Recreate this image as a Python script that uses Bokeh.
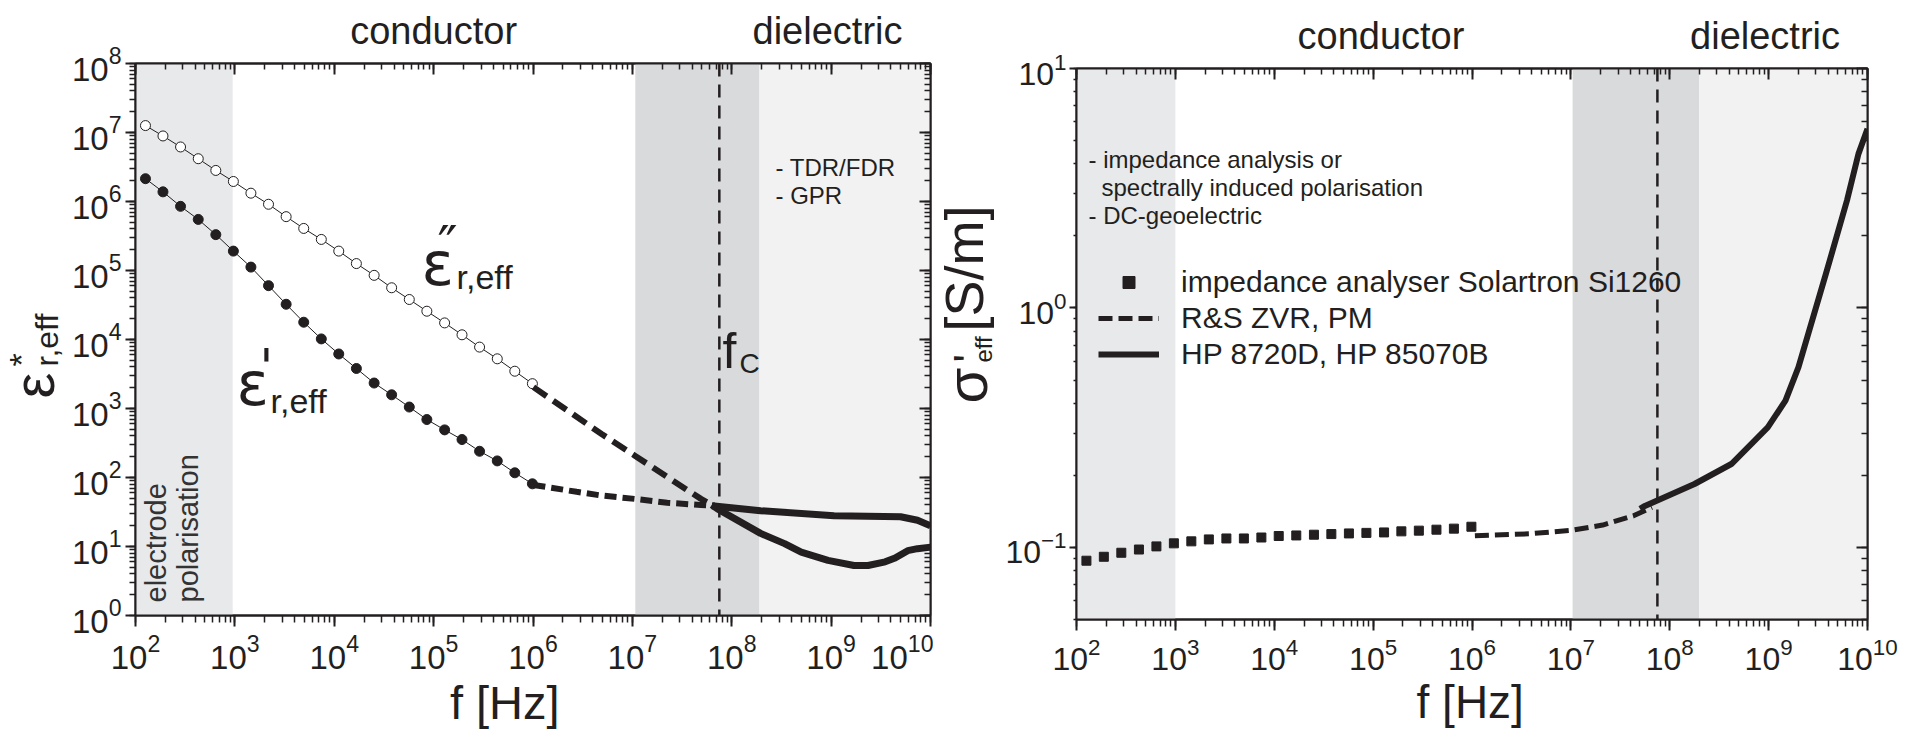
import math
from bokeh.plotting import figure
from bokeh.layouts import row
from bokeh.models import (LogAxis, LogTicker, FixedTicker, Range1d, BoxAnnotation, Span,
                          Label, Legend, LegendItem, CustomJSTickFormatter)
from bokeh.embed import file_html
from bokeh.resources import INLINE

FONT = "Liberation Sans"
GREEK = "DejaVu Sans"
INK = "#231f20"

# ---------------- data ----------------
# impedance analyser (Solartron Si1260) frequencies, Hz
f_ia = [126, 189, 284, 428, 643, 966, 1450, 2180, 3280, 4930, 7410,
        1.11e4, 1.67e4, 2.52e4, 3.78e4, 5.69e4, 8.55e4, 1.29e5, 1.93e5,
        2.90e5, 4.37e5, 6.56e5, 9.86e5]
eps_real_ia = [2.14e6, 1.38e6, 8.51e5, 5.50e5, 3.31e5, 1.91e5, 1.12e5, 6.03e4,
               3.24e4, 1.78e4, 1.02e4, 6.17e3, 3.80e3, 2.34e3, 1.58e3, 1.05e3,
               692, 490, 355, 240, 174, 117, 81]
eps_imag_ia = [1.26e7, 8.91e6, 6.17e6, 4.17e6, 2.82e6, 1.95e6, 1.32e6, 9.12e5,
               6.03e5, 4.07e5, 2.82e5, 1.91e5, 1.26e5, 8.51e4, 5.62e4, 3.80e4,
               2.57e4, 1.74e4, 1.17e4, 7.76e3, 5.25e3, 3.47e3, 2.29e3]
sigma_ia = [0.088, 0.0914, 0.095, 0.098, 0.101, 0.104, 0.106, 0.108, 0.109,
            0.109, 0.110, 0.1116, 0.1122, 0.113, 0.1137, 0.1144, 0.115, 0.1155,
            0.1167, 0.1175, 0.1186, 0.1198, 0.122]

# R&S ZVR, PM (dashed)
f_zvr_real = [1.01e6, 2.75e6, 4.8e6, 1.05e7, 2.24e7, 4.9e7, 6.3e7]
eps_real_zvr = [78, 62, 55, 49, 43, 40, 39]
f_zvr_imag = [1.01e6, 4.9e6, 1.05e7, 2.24e7, 4.9e7, 6.3e7]
eps_imag_zvr = [2.04e3, 427, 209, 102, 49, 40]
f_zvr_sigma = [1.07e6, 3.8e6, 1.02e7, 2.1e7, 4.3e7, 6.6e7]
sigma_zvr = [0.112, 0.114, 0.118, 0.124, 0.1355, 0.147]

# HP 8720D, HP 85070B (solid)
f_hp_real = [6.3e7, 1.95e8, 1.07e9, 5.0e9, 7.4e9, 1e10]
eps_real_hp = [39, 33, 28, 27, 24, 20]
f_hp_imag = [6.3e7, 7.2e7, 1.95e8, 3.4e8, 5.0e8, 9.3e8, 1.7e9, 2.35e9,
             3.5e9, 4.4e9, 5.9e9, 7.4e9, 1e10]
eps_imag_hp = [40, 35, 15.5, 11, 8.3, 6.3, 5.3, 5.3, 6.0, 6.8, 8.7, 9.3, 9.8]
f_hp_sigma = [5.0e7, 5.6e7, 1.78e8, 4.2e8, 9.8e8, 1.48e9, 2.0e9, 3.8e9,
              6.2e9, 8.1e9, 1e10]
sigma_hp = [0.145, 0.149, 0.184, 0.223, 0.317, 0.41, 0.565, 1.39, 2.81, 4.4, 5.6]

# frequency bands and critical frequency
band_ep = [1e2, 950]
band_mid = [1.07e7, 1.9e8]
band_hi = [1.9e8, 1e10]
f_c = 7.5e7

# region names above the panels, x-axis titles, legend
region_names = ["conductor", "dielectric"]
x_title = ["f [Hz]"]
legend_labels = ["impedance analyser Solartron Si1260", "R&S ZVR, PM",
                 "HP 8720D, HP 85070B"]

# ---------------- styling helpers ----------------
HALF_PI = math.pi / 2
ROT_SHIFT = 0.45    # em offset so a rotated label's baseline lands at the given x
FLAT_SHIFT = 0.33   # em offset so a flat label's baseline lands at the given y


def style_axes(p, tick_fs="33px", ytick_out=11, ystandoff=5):
    for ax in p.xaxis + p.yaxis:
        ax.axis_line_color = INK
        ax.axis_line_width = 2
        ax.major_tick_line_color = INK
        ax.minor_tick_line_color = INK
        ax.major_tick_line_width = 2
        ax.minor_tick_line_width = 1.5
        ax.major_tick_out = 11
        ax.major_tick_in = 0
        ax.minor_tick_out = 7
        ax.minor_tick_in = 0
        ax.major_label_text_font = FONT
        ax.major_label_text_font_size = tick_fs
        ax.major_label_text_color = INK
        ax.ticker.num_minor_ticks = 10
    p.xaxis.major_label_standoff = 7
    p.yaxis.major_label_standoff = ystandoff
    p.yaxis.major_tick_out = ytick_out
    p.yaxis.minor_tick_out = max(ytick_out - 4, 3)
    for side in ("above", "right"):
        ax = LogAxis(ticker=LogTicker(num_minor_ticks=10),
                     formatter=CustomJSTickFormatter(code="return ''"))
        ax.axis_line_color = INK
        ax.axis_line_width = 2
        ax.major_tick_line_color = INK
        ax.minor_tick_line_color = INK
        ax.major_tick_line_width = 2
        ax.minor_tick_line_width = 1.5
        ax.major_tick_out = 0
        ax.major_tick_in = 11
        ax.minor_tick_out = 0
        ax.minor_tick_in = 6
        ax.major_label_standoff = 0
        ax.major_label_text_font_size = "0px"
        p.add_layout(ax, side)


def text_axis(p, side, where, texts, size, standoff):
    """An axis without line or ticks whose tick labels carry free text."""
    ax = LogAxis(ticker=FixedTicker(ticks=where, minor_ticks=[]),
                 formatter=CustomJSTickFormatter(args=dict(names=texts),
                                                 code="return names[index]"))
    ax.axis_line_color = None
    ax.major_tick_line_color = None
    ax.minor_tick_line_color = None
    ax.major_tick_out = 0
    ax.major_tick_in = 0
    ax.minor_tick_out = 0
    ax.minor_tick_in = 0
    ax.major_label_standoff = standoff
    ax.major_label_text_font = FONT
    ax.major_label_text_font_size = f"{size}px"
    ax.major_label_text_color = INK
    p.add_layout(ax, side)


def lab(p, text, x, y, size, angle=0.0, align="left", color=INK, font=FONT):
    if angle:
        x = x - ROT_SHIFT * size
    else:
        y = y + FLAT_SHIFT * size
    p.add_layout(Label(x=x, y=y, x_units="screen", y_units="screen", text=text,
                       text_font=font, text_font_size=f"{size}px", text_color=color,
                       angle=angle, text_align=align, text_baseline="alphabetic"))


def blank(w, h):
    p = figure(width=w, height=h, x_axis_type=None, y_axis_type=None, title=None,
               x_range=Range1d(0, 1), y_range=Range1d(0, 1),
               min_border=0, frame_align=False,
               output_backend="svg", toolbar_location=None)
    p.outline_line_color = None
    p.grid.visible = False
    p.background_fill_color = "white"
    p.border_fill_color = "white"
    return p


def main_fig(y_lo, y_hi, w, h, left, right, top, bottom):
    p = figure(x_axis_type="log", y_axis_type="log", title=None,
               x_range=Range1d(1e2, 1e10), y_range=Range1d(y_lo, y_hi),
               width=w, height=h,
               min_border_left=left, min_border_right=right,
               min_border_top=top, min_border_bottom=bottom, frame_align=False,
               output_backend="svg", toolbar_location=None)
    p.grid.visible = False
    p.outline_line_color = INK
    p.outline_line_width = 2
    p.background_fill_color = "white"
    p.border_fill_color = "white"
    return p


def bands(p, ep, mid, hi):
    p.add_layout(BoxAnnotation(left=ep[0], right=ep[1], fill_color="#e8e9eb",
                               fill_alpha=1, line_alpha=0, level="underlay"))
    p.add_layout(BoxAnnotation(left=mid[0], right=mid[1], fill_color="#d9dadc",
                               fill_alpha=1, line_alpha=0, level="underlay"))
    p.add_layout(BoxAnnotation(left=hi[0], right=hi[1], fill_color="#f2f2f2",
                               fill_alpha=1, line_alpha=0, level="underlay"))
    p.add_layout(Span(location=f_c, dimension="height", line_color=INK,
                      line_width=2.5, line_dash="13 8"))


H = 736

# ================= left panel =================
ylab1 = blank(68, H)
p1 = main_fig(1, 1e8, 865, H, left=67, right=3, top=63, bottom=121)
bands(p1, band_ep, band_mid, band_hi)

p1.line(f_ia, eps_imag_ia, line_width=1, line_color=INK)
p1.scatter(f_ia, eps_imag_ia, marker="circle", size=10, fill_color="white",
           line_color=INK, line_width=1)
p1.line(f_ia, eps_real_ia, line_width=1, line_color=INK)
p1.scatter(f_ia, eps_real_ia, marker="circle", size=10, fill_color=INK,
           line_color=INK)
p1.line(f_zvr_imag, eps_imag_zvr, line_width=6, line_color=INK, line_dash="16 8")
p1.line(f_zvr_real, eps_real_zvr, line_width=6, line_color=INK, line_dash="12 6")
p1.line(f_hp_imag, eps_imag_hp, line_width=7, line_color=INK, line_join="round")
p1.line(f_hp_real, eps_real_hp, line_width=7, line_color=INK, line_join="round")
style_axes(p1, ytick_out=10, ystandoff=4)
text_axis(p1, "above", [1.0e5, 9.2e8], region_names, 38, 12)
text_axis(p1, "below", [5.2e5], x_title, 47, 4)

# positions: x from frame left, y of the baseline from frame bottom
lab(p1, "- TDR/FDR", 640, 440, 24)
lab(p1, "- GPR", 640, 412, 24)
# epsilon'' label
lab(p1, "\u03b5", 286, 332, 60, font=GREEK)
lab(p1, "\u2033", 302, 352, 54, font=GREEK)
lab(p1, "r,eff", 321, 327, 34)
# epsilon' label
lab(p1, "\u03b5", 101, 212, 60, font=GREEK)
lab(p1, "'", 124, 232, 50, font=GREEK)
lab(p1, "r,eff", 135, 203, 34)
# f_C
lab(p1, "f", 587, 248, 50)
lab(p1, "C", 604, 243, 28)
# electrode polarisation (rotated; x is where the baseline sits)
lab(p1, "electrode", 34, 13, 29, angle=HALF_PI, color="#333333")
lab(p1, "polarisation", 66, 13, 29, angle=HALF_PI, color="#333333")

# y-axis title  eps*_r,eff  (x = baseline position in the strip)
lab(ylab1, "\u03b5", 59, H - 398, 58, angle=HALF_PI)
lab(ylab1, "*", 36, H - 366, 34, angle=HALF_PI)
lab(ylab1, "r,eff", 61, H - 366, 32, angle=HALF_PI)

# ================= right panel =================
ylab2 = blank(69, H)
p2 = main_fig(0.05, 10, 914, H, left=71, right=49, top=68, bottom=117)
bands(p2, [1e2, 1e3], [1.04e7, 1.98e8], [1.98e8, 1e10])

sq = p2.scatter(f_ia, sigma_ia, marker="square", size=9, fill_color=INK,
                line_color=INK)
dz = p2.line(f_zvr_sigma, sigma_zvr, line_width=5, line_color=INK, line_dash="14 6")
hp = p2.line(f_hp_sigma, sigma_hp, line_width=6, line_color=INK, line_join="round")
style_axes(p2, tick_fs="32px", ytick_out=7, ystandoff=3)
text_axis(p2, "above", [1.2e5, 9.2e8], region_names, 38, 12)
text_axis(p2, "below", [9.6e5], x_title, 46, 3)

legend = Legend(items=[LegendItem(label=legend_labels[0], renderers=[sq]),
                       LegendItem(label=legend_labels[1], renderers=[dz]),
                       LegendItem(label=legend_labels[2], renderers=[hp])],
                location=(22, 248), glyph_width=61, glyph_height=30,
                label_height=30, label_standoff=22, spacing=2, padding=0,
                margin=0, border_line_alpha=0, background_fill_alpha=0,
                label_text_font=FONT, label_text_font_size="30px",
                label_text_color=INK)
p2.add_layout(legend)

lab(p2, "- impedance analysis or", 12, 452, 24)
lab(p2, "spectrally induced polarisation", 25, 424, 24)
lab(p2, "- DC-geoelectric", 12, 396, 24)

# y-axis title  sigma'_eff [S/m]  (strip starts at page x 935)
lab(ylab2, "\u03c3", 59, H - 403, 58, angle=HALF_PI)
lab(ylab2, "'", 56, H - 362, 44, angle=HALF_PI)
lab(ylab2, "eff", 61, H - 362, 24, angle=HALF_PI)
lab(ylab2, "[S/m]", 55, H - 331, 54, angle=HALF_PI)

layout = row(ylab1, p1, ylab2, p2)
open("out.html", "w").write(file_html(layout, INLINE))
